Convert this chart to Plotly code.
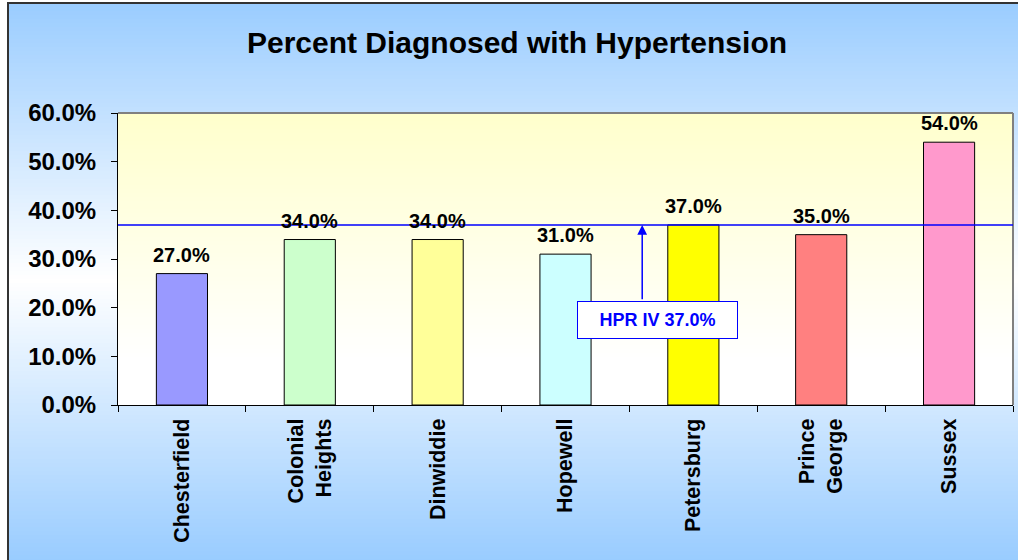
import plotly.graph_objects as go

# ---------------- data ----------------
categories = ["Chesterfield", "Colonial Heights", "Dinwiddie", "Hopewell",
              "Petersburg", "Prince George", "Sussex"]
percent_diagnosed = [27.0, 34.0, 34.0, 31.0, 37.0, 35.0, 54.0]
bar_colors = ["#9999FF", "#CCFFCC", "#FFFF99", "#CCFFFF",
              "#FFFF00", "#FF8080", "#FF99CC"]
tick_labels = ["Chesterfield", "Colonial<br>Heights", "Dinwiddie", "Hopewell",
               "Petersburg", "Prince<br>George", "Sussex"]
y_tick_values = [0, 10, 20, 30, 40, 50, 60]
y_tick_labels = ["0.0%", "10.0%", "20.0%", "30.0%", "40.0%", "50.0%", "60.0%"]
region_name = "HPR IV"
region_value = 37.0
title_text = "Percent Diagnosed with Hypertension"

# ---------------- layout geometry ----------------
W, H = 1018, 560
L, R, T, B = 118, 5, 113, 155
PW, PH = W - L - R, H - T - B
FONT = "Arial, 'Liberation Sans', sans-serif"


def px2x(px):
    return (px - L) / PW


def py2y(py):
    return (H - B - py) / PH


def mix(c1, c2, t):
    t = max(0.0, min(1.0, t))
    return "rgb({},{},{})".format(*[round(a + (b - a) * t) for a, b in zip(c1, c2)])


BLUE = (153, 204, 255)
WHITE = (255, 255, 255)
YELLOW = (255, 255, 204)

shapes = []
# figure background: blue -> white (middle) -> blue
step = 4
for py in range(3, H + 20, step):
    c = abs(py + step / 2 - 280) / 280
    shapes.append(dict(type="rect", xref="paper", yref="paper",
                       x0=px2x(8), x1=px2x(W + 20),
                       y0=py2y(py), y1=py2y(py + step + 1),
                       fillcolor=mix(WHITE, BLUE, c), line=dict(width=0),
                       layer="below"))
# plot area background: light yellow (top) -> white
for py in range(T, H - B, step):
    t = (py + step / 2 - T) / (360 - T)
    y1 = min(py + step + 1, H - B)
    shapes.append(dict(type="rect", xref="paper", yref="paper",
                       x0=0, x1=1, y0=py2y(py), y1=py2y(y1),
                       fillcolor=mix(YELLOW, WHITE, t), line=dict(width=0),
                       layer="below"))
# outer frame
shapes.append(dict(type="rect", xref="paper", yref="paper",
                   x0=px2x(8), x1=px2x(W + 30), y0=py2y(3), y1=py2y(H + 30),
                   line=dict(color="#333333", width=2), layer="below"))
# plot area gray border (top and right)
shapes.append(dict(type="line", xref="paper", yref="paper", x0=0, x1=1, y0=1, y1=1,
                   line=dict(color="#808080", width=2), layer="below"))
shapes.append(dict(type="line", xref="paper", yref="paper", x0=1, x1=1, y0=0, y1=1,
                   line=dict(color="#808080", width=2), layer="below"))
# regional reference line
shapes.append(dict(type="line", xref="paper", yref="y", x0=0, x1=1,
                   y0=region_value, y1=region_value,
                   line=dict(color="#0000FF", width=1.5), layer="above"))

fig = go.Figure()
fig.add_trace(go.Bar(
    x=categories, y=percent_diagnosed, width=0.4,
    marker=dict(color=bar_colors, line=dict(color="black", width=1)),
    hovertemplate="%{x}: %{y:.1f}%<extra></extra>",
))

annotations = []
for cat, val in zip(categories, percent_diagnosed):
    annotations.append(dict(
        x=cat, y=val, xref="x", yref="y", text=f"{val:.1f}%", showarrow=False,
        yanchor="bottom", yshift=6,
        font=dict(family=FONT, size=20, color="black", weight="bold")))

# regional label box with arrow pointing to the reference line
arrow_x = categories.index("Petersburg") - 0.4
box_x = categories.index("Petersburg") - 0.28
annotations.append(dict(
    x=arrow_x, y=region_value, xref="x", yref="y",
    ax=arrow_x, ay=21.4, axref="x", ayref="y", text="",
    showarrow=True, arrowhead=2, arrowsize=1.3, arrowwidth=1.5,
    arrowcolor="#0000FF", standoff=0, startstandoff=0))
annotations.append(dict(
    x=box_x, y=17.5, xref="x", yref="y", showarrow=False,
    text=f"{region_name} {region_value:.1f}%",
    font=dict(family=FONT, size=18, color="#0000FF", weight="bold"),
    bgcolor="white", bordercolor="#0000FF", borderwidth=1, borderpad=1,
    width=157, height=34, xanchor="center", yanchor="middle"))

fig.update_layout(
    width=W, height=H,
    margin=dict(l=L, r=R, t=T, b=B, pad=0),
    paper_bgcolor="white", plot_bgcolor="rgba(0,0,0,0)",
    font=dict(family=FONT, color="black"),
    showlegend=False,
    title=dict(text=title_text, x=517 / W, xref="container", xanchor="center",
               y=1 - 42 / H, yref="container", yanchor="middle",
               font=dict(family=FONT, size=30, color="black", weight="bold")),
    shapes=shapes,
    annotations=annotations,
    bargap=0.6,
)
fig.update_xaxes(
    type="category", range=[-0.5, len(categories) - 0.5],
    tickvals=categories, ticktext=tick_labels, tickangle=-90,
    ticks="outside", ticklen=6, tickcolor="black", tickson="boundaries",
    showline=True, linecolor="black", linewidth=1, showgrid=False,
    tickfont=dict(family=FONT, size=21.5, color="black", weight="bold"),
    ticklabelstandoff=4,
)
fig.update_yaxes(
    range=[0, 60], tickvals=y_tick_values, ticktext=y_tick_labels,
    ticks="outside", ticklen=6, tickcolor="black",
    showline=True, linecolor="black", linewidth=1,
    showgrid=False, zeroline=False,
    tickfont=dict(family=FONT, size=24, color="black", weight="bold"),
    ticklabelstandoff=10,
)

fig.write_html(
    "out.html",
    config={"displayModeBar": False},
    post_script="document.body.style.margin='0';document.body.style.overflow='hidden';",
)
